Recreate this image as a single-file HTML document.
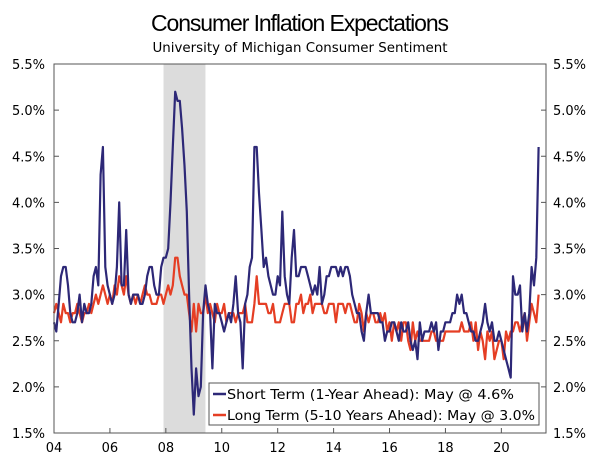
<!DOCTYPE html>
<html><head><meta charset="utf-8"><style>
html,body{margin:0;padding:0;background:#fff;}
svg{display:block;font-family:"DejaVu Sans","Liberation Sans",sans-serif;}
</style></head><body>
<svg id="chart" width="600" height="461">
<text x="300" y="31" text-anchor="middle" font-size="23" textLength="298" lengthAdjust="spacing" style="font-family:'Liberation Sans',sans-serif" fill="#000">Consumer Inflation Expectations</text>
<text x="300" y="52" text-anchor="middle" font-size="13" textLength="295" lengthAdjust="spacingAndGlyphs" fill="#000">University of Michigan Consumer Sentiment</text>
<g id="plot"></g>
</svg>
<script>
const yTicks=[1.5,2.0,2.5,3.0,3.5,4.0,4.5,5.0,5.5];
const xTickLabels=["04","06","08","10","12","14","16","18","20"];
const xTickYears=[2004,2006,2008,2010,2012,2014,2016,2018,2020];
const recessionStart=2007+11/12, recessionEnd=2009+5/12;
const shortTerm=[
2.7,2.6,2.9,3.2,3.3,3.3,3.1,2.8,2.7,2.7,2.8,3.0,
2.7,2.9,2.8,2.8,2.9,3.2,3.3,3.1,4.3,4.6,3.3,3.1,
3.0,2.9,3.0,3.3,4.0,3.1,3.1,3.7,3.0,2.9,3.0,3.0,
3.0,2.9,2.9,3.0,3.2,3.3,3.3,3.1,3.0,3.0,3.3,3.4,
3.4,3.5,4.0,4.6,5.2,5.1,5.1,4.8,4.4,3.9,3.0,2.2,
1.7,2.2,1.9,2.0,2.8,3.1,2.9,2.8,2.2,2.9,2.8,2.8,
2.7,2.6,2.7,2.8,2.7,2.9,3.2,2.8,2.7,2.2,2.9,3.0,
3.3,3.4,4.6,4.6,4.1,3.7,3.3,3.4,3.2,3.1,3.0,3.0,
3.2,3.1,3.9,3.2,3.0,2.9,3.4,3.7,3.2,3.2,3.3,3.3,
3.3,3.2,3.1,3.0,3.1,3.0,3.3,2.9,3.0,3.2,3.2,3.3,
3.3,3.3,3.2,3.3,3.2,3.3,3.3,3.2,3.0,2.9,2.8,2.8,
2.6,2.5,2.8,3.0,2.8,2.8,2.8,2.8,2.7,2.7,2.5,2.6,
2.6,2.7,2.7,2.6,2.5,2.7,2.6,2.6,2.7,2.5,2.4,2.5,
2.3,2.7,2.5,2.6,2.6,2.6,2.7,2.6,2.7,2.4,2.6,2.6,
2.7,2.7,2.7,2.8,2.8,3.0,2.9,3.0,2.8,2.8,2.7,2.6,
2.6,2.5,2.5,2.6,2.7,2.9,2.7,2.6,2.7,2.5,2.5,2.6,
2.5,2.4,2.3,2.2,2.1,3.2,3.0,3.0,3.1,2.6,2.8,2.6,
2.8,3.3,3.1,3.4,4.6];
const longTerm=[
2.8,2.9,2.8,2.7,2.9,2.8,2.8,2.7,2.8,2.8,2.9,2.8,
2.7,2.8,2.8,2.9,2.8,2.9,3.0,2.9,3.0,3.1,3.0,2.9,
3.0,2.9,3.1,3.0,3.2,3.1,3.0,3.2,3.0,2.9,3.0,2.9,
3.0,2.9,3.0,3.1,3.0,3.0,2.9,2.9,2.9,3.0,3.0,2.9,
3.0,3.1,3.0,3.1,3.4,3.4,3.2,3.1,3.0,3.0,2.8,2.6,
2.9,2.6,2.9,2.8,2.8,3.0,2.8,2.9,2.8,2.7,2.9,2.8,
2.8,2.9,2.7,2.8,2.8,2.8,2.7,2.8,2.8,2.8,2.9,2.7,
2.7,2.7,2.9,3.2,2.9,2.9,2.9,2.9,2.8,2.8,2.9,2.7,
2.7,2.7,2.8,2.9,2.9,2.9,2.7,2.7,2.9,2.9,3.0,2.8,
2.9,2.9,3.0,2.8,2.9,2.9,2.9,2.9,2.8,2.8,2.9,2.9,
2.9,2.7,2.9,2.9,2.9,2.8,2.9,2.9,2.8,2.7,2.7,2.9,
2.8,2.6,2.8,2.7,2.8,2.8,2.7,2.7,2.8,2.7,2.8,2.6,
2.7,2.5,2.7,2.6,2.7,2.5,2.7,2.7,2.5,2.4,2.7,2.5,
2.6,2.5,2.5,2.5,2.5,2.5,2.6,2.6,2.5,2.5,2.5,2.5,
2.6,2.6,2.6,2.6,2.6,2.6,2.6,2.7,2.6,2.6,2.6,2.7,
2.5,2.7,2.4,2.6,2.5,2.3,2.6,2.5,2.6,2.3,2.4,2.5,
2.5,2.3,2.6,2.5,2.6,2.6,2.7,2.7,2.6,2.7,2.8,2.5,
2.7,2.9,2.8,2.7,3.0];
const L=54,R=546,T=64,B=433;
const x=t=>L+(t-2004)*12*2.33;
const y=v=>B-(v-1.5)*(B-T)/4;
const NS="http://www.w3.org/2000/svg";
const g=document.getElementById('plot');
function mk(tag,attrs,parent){const e=document.createElementNS(NS,tag);for(const k in attrs)e.setAttribute(k,attrs[k]);(parent||g).appendChild(e);return e;}
let r=mk('rect',{x:x(recessionStart),y:T,width:x(recessionEnd)-x(recessionStart),height:B-T,fill:'#dcdcdc'});


yTicks.forEach(v=>{
 let t=mk('text',{x:45,y:y(v)+5,'text-anchor':'end','font-size':13});t.textContent=v.toFixed(1)+'%';
 
 
 let t2=mk('text',{x:553,y:y(v)+5,'font-size':13});t2.textContent=v.toFixed(1)+'%';
 
 
 mk('line',{x1:L,x2:L+5,y1:y(v),y2:y(v),stroke:'#555'});
 mk('line',{x1:R-5,x2:R,y1:y(v),y2:y(v),stroke:'#555'});
});
xTickYears.forEach((yr,i)=>{
 mk('line',{x1:x(yr),x2:x(yr),y1:B,y2:B-5,stroke:'#555'});
 let t=mk('text',{x:x(yr),y:452,'text-anchor':'middle','font-size':13});t.textContent=xTickLabels[i];
 
 
});
function line(data,color,name){
 const pts=data.map((v,i)=>x(2004+i/12).toFixed(1)+','+y(v).toFixed(1)).join(' ');
 let p=mk('polyline',{points:pts,fill:'none',stroke:color,'stroke-width':2.2,'stroke-linejoin':'round'});
 
 
}
line(longTerm,'#e53e24','long-term-line');
line(shortTerm,'#2d2877','short-term-line');
let fr=mk('rect',{x:L,y:T,width:R-L,height:B-T,fill:'none',stroke:'#555','stroke-width':1});


let lg=mk('g',{});


mk('rect',{x:209,y:383,width:330,height:42,fill:'#fff',stroke:'#555'},lg);
mk('line',{x1:213,x2:226,y1:394,y2:394,stroke:'#2d2877','stroke-width':2.5},lg);
mk('line',{x1:213,x2:226,y1:415,y2:415,stroke:'#e53e24','stroke-width':2.5},lg);
let a=mk('text',{x:227,y:399,'font-size':13,textLength:287,lengthAdjust:'spacingAndGlyphs'},lg);a.textContent='Short Term (1-Year Ahead): May @ 4.6%';


let b=mk('text',{x:227,y:420,'font-size':13,textLength:308,lengthAdjust:'spacingAndGlyphs'},lg);b.textContent='Long Term (5-10 Years Ahead): May @ 3.0%';


</script>
</body></html>
